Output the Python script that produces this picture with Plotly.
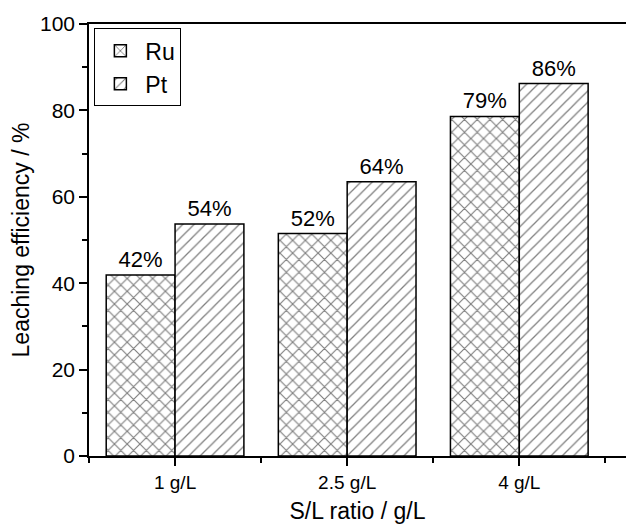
import plotly.graph_objects as go

categories = ["1 g/L", "2.5 g/L", "4 g/L"]
ru_values = [41.9, 51.5, 78.6]
pt_values = [53.7, 63.5, 86.2]
ru_labels = ["42%", "52%", "79%"]
pt_labels = ["54%", "64%", "86%"]

FONT = "Liberation Sans, Arial, sans-serif"
xpos = list(range(len(categories)))

fig = go.Figure()
fig.add_trace(go.Bar(
    x=xpos, y=ru_values, name="Ru", text=ru_labels, textposition="outside",
    textfont=dict(size=22, color="black", family=FONT), cliponaxis=False,
    marker=dict(color="white", line=dict(color="black", width=1.5),
                pattern=dict(shape="x", fgcolor="black", bgcolor="white", size=9, solidity=0.24)),
))
fig.add_trace(go.Bar(
    x=xpos, y=pt_values, name="Pt", text=pt_labels, textposition="outside",
    textfont=dict(size=22, color="black", family=FONT), cliponaxis=False,
    marker=dict(color="white", line=dict(color="black", width=1.5),
                pattern=dict(shape="/", fgcolor="black", bgcolor="white", size=8, solidity=0.16)),
))

fig.update_layout(
    width=626, height=524,
    margin=dict(l=89, r=0, t=24, b=68),
    plot_bgcolor="white", paper_bgcolor="white",
    barmode="group", bargap=0.2, bargroupgap=0,
    font=dict(family=FONT, color="black"),
    showlegend=True,
    legend=dict(x=0.01, y=0.99, xanchor="left", yanchor="top",
                bordercolor="black", borderwidth=1, bgcolor="white",
                font=dict(size=23, family=FONT), tracegroupgap=0,
                itemwidth=40),
    xaxis=dict(
        range=[-0.5, 2.62], tickmode="array", tickvals=xpos, ticktext=categories,
        showline=True, linecolor="black", linewidth=1.5, mirror=True,
        ticks="outside", ticklen=8, tickwidth=1.5, tickcolor="black",
        tickfont=dict(size=19, family=FONT, color="black"),
        minor=dict(tickmode="linear", tick0=-0.5, dtick=1, ticks="outside", ticklen=5, tickwidth=1.5, tickcolor="black"),
        showgrid=False, zeroline=False,
        title=dict(text="S/L ratio / g/L", font=dict(size=23, family=FONT), standoff=12),
    ),
    yaxis=dict(
        range=[0, 100], dtick=20,
        showline=True, linecolor="black", linewidth=1.5,
        ticks="outside", ticklen=8, tickwidth=1.5, tickcolor="black",
        tickfont=dict(size=21, family=FONT),
        minor=dict(dtick=10, ticks="outside", ticklen=5, tickwidth=1.5, tickcolor="black"),
        showgrid=False, zeroline=False,
        title=dict(text="Leaching efficiency / %", font=dict(size=23, family=FONT), standoff=4),
    ),
)

fig.write_html("out.html")
